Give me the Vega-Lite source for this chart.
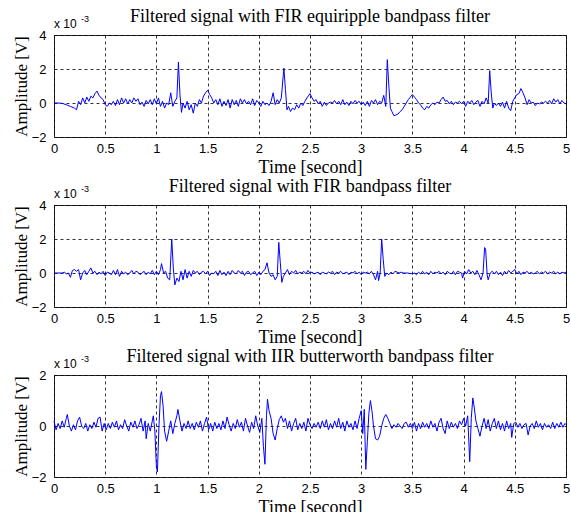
{
  "$schema": "https://vega.github.io/schema/vega-lite/v6.json",
  "background": "white",
  "padding": {"left": 11, "top": 7, "right": 4, "bottom": 0},
  "spacing": 0,
  "datasets": {
    "p1": [
      {"t":0,"v":0},{"t":0.04,"v":0},{"t":0.08,"v":-0.02},{"t":0.12,"v":-0.1},{"t":0.16,"v":-0.2},{"t":0.2,"v":-0.3},{"t":0.22,"v":-0.4},{"t":0.24,"v":0.1},{"t":0.26,"v":-0.1},{"t":0.28,"v":0.3},{"t":0.3,"v":0},{"t":0.32,"v":0.35},{"t":0.34,"v":0.1},{"t":0.36,"v":0.4},{"t":0.38,"v":0.3},{"t":0.4,"v":0.55},{"t":0.42,"v":0.7},{"t":0.44,"v":0.45},{"t":0.46,"v":0.3},{"t":0.48,"v":0.2},{"t":0.5,"v":-0.1},{"t":0.52,"v":-0.2},{"t":0.54,"v":0},{"t":0.56,"v":-0.1},{"t":0.58,"v":0.1},{"t":0.6,"v":-0.15},{"t":0.62,"v":0.2},{"t":0.64,"v":-0.1},{"t":0.66,"v":0.3},{"t":0.68,"v":0},{"t":0.7,"v":0.25},{"t":0.72,"v":-0.05},{"t":0.74,"v":0.2},{"t":0.76,"v":0},{"t":0.78,"v":0.3},{"t":0.8,"v":0.1},{"t":0.82,"v":0.25},{"t":0.84,"v":-0.1},{"t":0.86,"v":0.05},{"t":0.88,"v":-0.2},{"t":0.9,"v":0.15},{"t":0.92,"v":-0.05},{"t":0.94,"v":0.2},{"t":0.96,"v":-0.1},{"t":0.98,"v":0.25},{"t":1,"v":-0.05},{"t":1.02,"v":0.3},{"t":1.04,"v":-0.2},{"t":1.06,"v":0.1},{"t":1.08,"v":-0.3},{"t":1.1,"v":0},{"t":1.12,"v":-0.1},{"t":1.14,"v":0.6},{"t":1.16,"v":-0.2},{"t":1.18,"v":0.1},{"t":1.2,"v":0.3},{"t":1.215,"v":2.4},{"t":1.23,"v":0.5},{"t":1.245,"v":-0.55},{"t":1.26,"v":0},{"t":1.28,"v":-0.3},{"t":1.3,"v":0.1},{"t":1.32,"v":-0.4},{"t":1.34,"v":-0.1},{"t":1.36,"v":-0.6},{"t":1.38,"v":0},{"t":1.4,"v":-0.2},{"t":1.42,"v":0.2},{"t":1.44,"v":0},{"t":1.46,"v":0.4},{"t":1.48,"v":0.6},{"t":1.5,"v":0.75},{"t":1.52,"v":0.5},{"t":1.54,"v":0.3},{"t":1.56,"v":0},{"t":1.58,"v":0.2},{"t":1.6,"v":-0.1},{"t":1.62,"v":0.25},{"t":1.64,"v":-0.2},{"t":1.66,"v":0.1},{"t":1.68,"v":-0.15},{"t":1.7,"v":0.2},{"t":1.72,"v":-0.3},{"t":1.74,"v":0.2},{"t":1.76,"v":-0.1},{"t":1.78,"v":0.15},{"t":1.8,"v":-0.2},{"t":1.82,"v":0.25},{"t":1.84,"v":0},{"t":1.86,"v":0.2},{"t":1.88,"v":-0.05},{"t":1.9,"v":0.1},{"t":1.92,"v":-0.1},{"t":1.94,"v":0.25},{"t":1.96,"v":-0.15},{"t":1.98,"v":0.15},{"t":2,"v":0},{"t":2.02,"v":-0.2},{"t":2.04,"v":0.1},{"t":2.06,"v":-0.1},{"t":2.08,"v":0},{"t":2.1,"v":-0.15},{"t":2.12,"v":0.1},{"t":2.14,"v":0.6},{"t":2.16,"v":-0.1},{"t":2.18,"v":0.2},{"t":2.2,"v":0},{"t":2.22,"v":0.3},{"t":2.245,"v":2.05},{"t":2.26,"v":0.8},{"t":2.275,"v":-0.4},{"t":2.29,"v":-0.2},{"t":2.31,"v":-0.5},{"t":2.33,"v":-0.3},{"t":2.35,"v":-0.4},{"t":2.37,"v":-0.1},{"t":2.39,"v":-0.3},{"t":2.41,"v":0},{"t":2.43,"v":-0.15},{"t":2.45,"v":0.1},{"t":2.47,"v":0.3},{"t":2.5,"v":0.55},{"t":2.52,"v":0.3},{"t":2.54,"v":0.1},{"t":2.56,"v":0.2},{"t":2.58,"v":-0.05},{"t":2.6,"v":0.1},{"t":2.62,"v":-0.2},{"t":2.64,"v":0.05},{"t":2.66,"v":-0.15},{"t":2.68,"v":0},{"t":2.7,"v":0.05},{"t":2.72,"v":0},{"t":2.74,"v":0.15},{"t":2.76,"v":-0.05},{"t":2.78,"v":0.1},{"t":2.8,"v":-0.1},{"t":2.82,"v":0.2},{"t":2.84,"v":-0.1},{"t":2.86,"v":0.05},{"t":2.88,"v":-0.15},{"t":2.9,"v":0.1},{"t":2.92,"v":-0.05},{"t":2.94,"v":0.15},{"t":2.96,"v":0},{"t":2.98,"v":0.1},{"t":3,"v":-0.1},{"t":3.02,"v":0.05},{"t":3.04,"v":-0.15},{"t":3.06,"v":0.1},{"t":3.08,"v":-0.2},{"t":3.1,"v":0.15},{"t":3.12,"v":0},{"t":3.14,"v":0.2},{"t":3.16,"v":-0.1},{"t":3.18,"v":0.1},{"t":3.2,"v":0},{"t":3.22,"v":0.45},{"t":3.24,"v":-0.2},{"t":3.255,"v":2.55},{"t":3.27,"v":1},{"t":3.285,"v":-0.3},{"t":3.3,"v":-0.5},{"t":3.32,"v":-0.75},{"t":3.34,"v":-0.7},{"t":3.36,"v":-0.65},{"t":3.38,"v":-0.5},{"t":3.4,"v":-0.4},{"t":3.42,"v":-0.2},{"t":3.44,"v":0},{"t":3.46,"v":0.2},{"t":3.48,"v":0.35},{"t":3.5,"v":0.5},{"t":3.52,"v":0.35},{"t":3.54,"v":0.2},{"t":3.56,"v":0},{"t":3.58,"v":-0.1},{"t":3.6,"v":-0.3},{"t":3.62,"v":-0.4},{"t":3.64,"v":-0.2},{"t":3.66,"v":-0.3},{"t":3.68,"v":-0.1},{"t":3.7,"v":0},{"t":3.72,"v":-0.1},{"t":3.74,"v":0.05},{"t":3.76,"v":0},{"t":3.78,"v":0.2},{"t":3.8,"v":0.35},{"t":3.82,"v":0.1},{"t":3.84,"v":0.15},{"t":3.86,"v":-0.05},{"t":3.88,"v":0.1},{"t":3.9,"v":-0.1},{"t":3.92,"v":0.05},{"t":3.94,"v":0},{"t":3.96,"v":0.1},{"t":3.98,"v":-0.05},{"t":4,"v":0.1},{"t":4.02,"v":-0.2},{"t":4.04,"v":0.1},{"t":4.06,"v":0},{"t":4.08,"v":0.15},{"t":4.1,"v":-0.1},{"t":4.12,"v":0.05},{"t":4.14,"v":0.15},{"t":4.16,"v":-0.2},{"t":4.18,"v":0.1},{"t":4.2,"v":-0.05},{"t":4.22,"v":0.3},{"t":4.24,"v":0},{"t":4.255,"v":1.9},{"t":4.27,"v":0.6},{"t":4.285,"v":-0.3},{"t":4.3,"v":0},{"t":4.32,"v":-0.15},{"t":4.34,"v":0},{"t":4.36,"v":-0.2},{"t":4.38,"v":0.05},{"t":4.4,"v":-0.3},{"t":4.42,"v":0.1},{"t":4.44,"v":-0.3},{"t":4.46,"v":-0.45},{"t":4.48,"v":0.1},{"t":4.5,"v":0.3},{"t":4.52,"v":0.5},{"t":4.54,"v":0.55},{"t":4.56,"v":0.85},{"t":4.58,"v":0.6},{"t":4.6,"v":0.3},{"t":4.62,"v":-0.1},{"t":4.64,"v":0.2},{"t":4.66,"v":0},{"t":4.68,"v":0.05},{"t":4.7,"v":-0.15},{"t":4.72,"v":0},{"t":4.74,"v":-0.05},{"t":4.76,"v":0.05},{"t":4.78,"v":0},{"t":4.8,"v":0.1},{"t":4.82,"v":0},{"t":4.84,"v":0.15},{"t":4.86,"v":-0.05},{"t":4.88,"v":0.25},{"t":4.9,"v":0.05},{"t":4.92,"v":0.2},{"t":4.94,"v":-0.05},{"t":4.96,"v":0.15},{"t":4.98,"v":0},{"t":5,"v":-0.05}
    ],
    "p2": [
      {"t":0,"v":0},{"t":0.04,"v":0},{"t":0.08,"v":0},{"t":0.1,"v":0.05},{"t":0.12,"v":-0.05},{"t":0.14,"v":0},{"t":0.16,"v":-0.25},{"t":0.18,"v":0.15},{"t":0.2,"v":0.2},{"t":0.22,"v":0.1},{"t":0.24,"v":0.2},{"t":0.26,"v":-0.4},{"t":0.28,"v":0},{"t":0.3,"v":0.15},{"t":0.32,"v":-0.1},{"t":0.34,"v":0.1},{"t":0.36,"v":0.3},{"t":0.38,"v":0},{"t":0.4,"v":0.1},{"t":0.42,"v":-0.1},{"t":0.44,"v":0.05},{"t":0.46,"v":-0.05},{"t":0.48,"v":0.1},{"t":0.5,"v":-0.15},{"t":0.52,"v":0.05},{"t":0.54,"v":0},{"t":0.56,"v":-0.1},{"t":0.58,"v":0.15},{"t":0.6,"v":-0.1},{"t":0.62,"v":0.2},{"t":0.64,"v":-0.2},{"t":0.66,"v":0.1},{"t":0.68,"v":-0.05},{"t":0.7,"v":0.05},{"t":0.72,"v":-0.1},{"t":0.74,"v":0},{"t":0.76,"v":0.15},{"t":0.78,"v":-0.05},{"t":0.8,"v":0.1},{"t":0.82,"v":0.05},{"t":0.84,"v":-0.1},{"t":0.86,"v":0},{"t":0.88,"v":0.1},{"t":0.9,"v":-0.1},{"t":0.92,"v":0.05},{"t":0.94,"v":-0.05},{"t":0.96,"v":0.15},{"t":0.98,"v":-0.1},{"t":1,"v":0.1},{"t":1.02,"v":-0.1},{"t":1.04,"v":0.2},{"t":1.05,"v":0.55},{"t":1.07,"v":0},{"t":1.09,"v":0.1},{"t":1.11,"v":-0.3},{"t":1.13,"v":-0.4},{"t":1.15,"v":2},{"t":1.165,"v":0.3},{"t":1.18,"v":-0.7},{"t":1.2,"v":-0.3},{"t":1.22,"v":-0.5},{"t":1.24,"v":0.1},{"t":1.26,"v":-0.4},{"t":1.28,"v":0.2},{"t":1.3,"v":-0.3},{"t":1.32,"v":0.1},{"t":1.34,"v":-0.2},{"t":1.36,"v":0.15},{"t":1.38,"v":0},{"t":1.4,"v":0.1},{"t":1.42,"v":-0.1},{"t":1.44,"v":0.05},{"t":1.46,"v":0.1},{"t":1.48,"v":-0.05},{"t":1.5,"v":0.1},{"t":1.52,"v":-0.15},{"t":1.54,"v":0},{"t":1.56,"v":-0.05},{"t":1.58,"v":0.1},{"t":1.6,"v":-0.15},{"t":1.62,"v":0.15},{"t":1.64,"v":-0.1},{"t":1.66,"v":0.05},{"t":1.68,"v":-0.15},{"t":1.7,"v":0.1},{"t":1.72,"v":-0.1},{"t":1.74,"v":0.15},{"t":1.76,"v":0},{"t":1.78,"v":-0.05},{"t":1.8,"v":0.15},{"t":1.82,"v":0},{"t":1.84,"v":0.1},{"t":1.86,"v":-0.15},{"t":1.88,"v":0.05},{"t":1.9,"v":0.1},{"t":1.92,"v":-0.1},{"t":1.94,"v":0},{"t":1.96,"v":0.1},{"t":1.98,"v":-0.15},{"t":2,"v":0.05},{"t":2.02,"v":-0.1},{"t":2.04,"v":0.1},{"t":2.06,"v":0.2},{"t":2.08,"v":0.6},{"t":2.1,"v":0},{"t":2.12,"v":-0.2},{"t":2.14,"v":-0.1},{"t":2.16,"v":-0.4},{"t":2.18,"v":-0.2},{"t":2.195,"v":1.8},{"t":2.21,"v":0.6},{"t":2.225,"v":-0.55},{"t":2.24,"v":-0.2},{"t":2.26,"v":0},{"t":2.28,"v":0.2},{"t":2.3,"v":-0.1},{"t":2.32,"v":0.1},{"t":2.34,"v":0},{"t":2.36,"v":0.15},{"t":2.38,"v":-0.05},{"t":2.4,"v":0.05},{"t":2.42,"v":0},{"t":2.44,"v":0.1},{"t":2.46,"v":-0.05},{"t":2.48,"v":0.15},{"t":2.5,"v":0},{"t":2.52,"v":0.05},{"t":2.54,"v":-0.05},{"t":2.56,"v":0},{"t":2.58,"v":0.05},{"t":2.6,"v":-0.1},{"t":2.62,"v":0.05},{"t":2.64,"v":0},{"t":2.66,"v":-0.05},{"t":2.68,"v":0.05},{"t":2.7,"v":0},{"t":2.72,"v":0.1},{"t":2.74,"v":-0.1},{"t":2.76,"v":0.05},{"t":2.78,"v":0},{"t":2.8,"v":0.1},{"t":2.82,"v":-0.05},{"t":2.84,"v":0},{"t":2.86,"v":0.05},{"t":2.88,"v":-0.1},{"t":2.9,"v":0.05},{"t":2.92,"v":0},{"t":2.94,"v":0.1},{"t":2.96,"v":-0.05},{"t":2.98,"v":0.05},{"t":3,"v":-0.1},{"t":3.02,"v":0.05},{"t":3.04,"v":0},{"t":3.06,"v":0.05},{"t":3.08,"v":-0.05},{"t":3.1,"v":0.1},{"t":3.12,"v":-0.1},{"t":3.14,"v":-0.4},{"t":3.16,"v":0.1},{"t":3.17,"v":-0.45},{"t":3.185,"v":0},{"t":3.2,"v":2},{"t":3.215,"v":0.8},{"t":3.23,"v":-0.2},{"t":3.25,"v":0},{"t":3.27,"v":-0.1},{"t":3.29,"v":0.05},{"t":3.31,"v":-0.05},{"t":3.33,"v":0.1},{"t":3.35,"v":0.05},{"t":3.37,"v":0},{"t":3.39,"v":0.05},{"t":3.41,"v":0},{"t":3.45,"v":0},{"t":3.5,"v":-0.05},{"t":3.52,"v":0},{"t":3.54,"v":-0.1},{"t":3.56,"v":0.05},{"t":3.58,"v":-0.05},{"t":3.6,"v":0.1},{"t":3.62,"v":-0.05},{"t":3.64,"v":0.05},{"t":3.66,"v":-0.1},{"t":3.68,"v":0.1},{"t":3.7,"v":-0.05},{"t":3.72,"v":0.05},{"t":3.74,"v":0},{"t":3.76,"v":0.1},{"t":3.78,"v":-0.05},{"t":3.8,"v":0.05},{"t":3.82,"v":-0.1},{"t":3.84,"v":0.1},{"t":3.86,"v":0},{"t":3.88,"v":-0.05},{"t":3.9,"v":0.1},{"t":3.92,"v":-0.1},{"t":3.94,"v":0.1},{"t":3.96,"v":0.05},{"t":3.98,"v":0},{"t":3.99,"v":-0.3},{"t":4.01,"v":0.1},{"t":4.03,"v":-0.05},{"t":4.05,"v":0.2},{"t":4.07,"v":0},{"t":4.09,"v":0.1},{"t":4.11,"v":-0.1},{"t":4.13,"v":0.15},{"t":4.15,"v":-0.1},{"t":4.17,"v":-0.4},{"t":4.19,"v":0},{"t":4.205,"v":1.5},{"t":4.215,"v":1.4},{"t":4.23,"v":-0.1},{"t":4.24,"v":-0.4},{"t":4.26,"v":0},{"t":4.28,"v":0.1},{"t":4.3,"v":-0.05},{"t":4.32,"v":0.1},{"t":4.34,"v":-0.1},{"t":4.36,"v":0.05},{"t":4.38,"v":-0.15},{"t":4.4,"v":0.1},{"t":4.42,"v":-0.05},{"t":4.44,"v":0.15},{"t":4.46,"v":0},{"t":4.48,"v":0.1},{"t":4.5,"v":0.2},{"t":4.52,"v":-0.05},{"t":4.54,"v":0.1},{"t":4.56,"v":-0.1},{"t":4.58,"v":0.05},{"t":4.6,"v":0},{"t":4.62,"v":0.1},{"t":4.64,"v":-0.05},{"t":4.66,"v":0.05},{"t":4.68,"v":-0.05},{"t":4.7,"v":0},{"t":4.72,"v":0.1},{"t":4.74,"v":-0.05},{"t":4.76,"v":0.05},{"t":4.78,"v":0},{"t":4.8,"v":0.1},{"t":4.82,"v":-0.05},{"t":4.84,"v":0.05},{"t":4.86,"v":0},{"t":4.88,"v":0.1},{"t":4.9,"v":-0.05},{"t":4.92,"v":0.05},{"t":4.94,"v":-0.05},{"t":4.96,"v":0.05},{"t":4.98,"v":0},{"t":5,"v":0.05}
    ],
    "p3": [
      {"t":0,"v":0.2},{"t":0.02,"v":-0.15},{"t":0.04,"v":0.1},{"t":0.06,"v":-0.1},{"t":0.08,"v":0.2},{"t":0.1,"v":-0.05},{"t":0.12,"v":0.3},{"t":0.13,"v":0.45},{"t":0.15,"v":0},{"t":0.17,"v":-0.2},{"t":0.19,"v":0.05},{"t":0.21,"v":-0.15},{"t":0.23,"v":0.2},{"t":0.25,"v":0.35},{"t":0.27,"v":0},{"t":0.29,"v":-0.1},{"t":0.31,"v":0.1},{"t":0.33,"v":-0.2},{"t":0.35,"v":0.05},{"t":0.37,"v":-0.1},{"t":0.39,"v":0.15},{"t":0.41,"v":-0.05},{"t":0.43,"v":0.3},{"t":0.45,"v":0.35},{"t":0.47,"v":-0.2},{"t":0.49,"v":0.1},{"t":0.51,"v":-0.15},{"t":0.53,"v":0.1},{"t":0.55,"v":-0.1},{"t":0.57,"v":0.15},{"t":0.59,"v":-0.05},{"t":0.61,"v":0.2},{"t":0.63,"v":-0.15},{"t":0.65,"v":0.05},{"t":0.67,"v":-0.1},{"t":0.69,"v":0.25},{"t":0.71,"v":0},{"t":0.73,"v":-0.2},{"t":0.75,"v":0.15},{"t":0.77,"v":-0.05},{"t":0.79,"v":0.2},{"t":0.81,"v":-0.1},{"t":0.83,"v":0.05},{"t":0.85,"v":0.3},{"t":0.87,"v":-0.2},{"t":0.89,"v":0.2},{"t":0.9,"v":-0.5},{"t":0.92,"v":0.1},{"t":0.94,"v":-0.2},{"t":0.96,"v":0.2},{"t":0.97,"v":0.4},{"t":0.985,"v":-0.2},{"t":1,"v":-1.6},{"t":1.01,"v":-1.8},{"t":1.025,"v":0},{"t":1.04,"v":1.2},{"t":1.05,"v":1.35},{"t":1.065,"v":0.8},{"t":1.08,"v":-0.2},{"t":1.1,"v":-0.6},{"t":1.12,"v":-0.2},{"t":1.14,"v":0.2},{"t":1.16,"v":-0.3},{"t":1.18,"v":0.1},{"t":1.2,"v":0.4},{"t":1.21,"v":0.65},{"t":1.23,"v":0.2},{"t":1.25,"v":-0.2},{"t":1.27,"v":0.1},{"t":1.29,"v":-0.1},{"t":1.31,"v":0.2},{"t":1.33,"v":-0.1},{"t":1.35,"v":0.1},{"t":1.37,"v":-0.15},{"t":1.39,"v":0.15},{"t":1.41,"v":-0.05},{"t":1.43,"v":0.2},{"t":1.45,"v":-0.2},{"t":1.47,"v":0.1},{"t":1.49,"v":0.35},{"t":1.51,"v":-0.15},{"t":1.53,"v":0.1},{"t":1.55,"v":-0.2},{"t":1.57,"v":0.15},{"t":1.59,"v":-0.1},{"t":1.61,"v":0.1},{"t":1.63,"v":-0.15},{"t":1.65,"v":0.2},{"t":1.67,"v":-0.1},{"t":1.69,"v":0.35},{"t":1.71,"v":0.05},{"t":1.73,"v":-0.2},{"t":1.75,"v":0.1},{"t":1.77,"v":-0.1},{"t":1.79,"v":0.25},{"t":1.81,"v":-0.05},{"t":1.83,"v":0.15},{"t":1.85,"v":-0.2},{"t":1.87,"v":0.3},{"t":1.89,"v":0},{"t":1.91,"v":-0.25},{"t":1.93,"v":0.15},{"t":1.95,"v":-0.1},{"t":1.97,"v":0.4},{"t":1.99,"v":0},{"t":2.01,"v":-0.25},{"t":2.03,"v":0.3},{"t":2.045,"v":-0.8},{"t":2.06,"v":-1.5},{"t":2.075,"v":0.4},{"t":2.085,"v":1.05},{"t":2.1,"v":0.6},{"t":2.12,"v":0.3},{"t":2.14,"v":-0.3},{"t":2.16,"v":-0.55},{"t":2.18,"v":-0.1},{"t":2.2,"v":0.25},{"t":2.22,"v":0.4},{"t":2.24,"v":0.15},{"t":2.26,"v":0.3},{"t":2.28,"v":-0.1},{"t":2.3,"v":0.2},{"t":2.32,"v":-0.2},{"t":2.34,"v":0.1},{"t":2.36,"v":0.3},{"t":2.38,"v":-0.15},{"t":2.4,"v":0.1},{"t":2.42,"v":-0.1},{"t":2.44,"v":0.15},{"t":2.46,"v":-0.2},{"t":2.48,"v":0.3},{"t":2.5,"v":0.05},{"t":2.52,"v":-0.1},{"t":2.54,"v":0.1},{"t":2.56,"v":-0.05},{"t":2.58,"v":0.15},{"t":2.6,"v":-0.1},{"t":2.62,"v":0.2},{"t":2.64,"v":-0.05},{"t":2.66,"v":0.25},{"t":2.68,"v":-0.15},{"t":2.7,"v":0.1},{"t":2.72,"v":-0.1},{"t":2.74,"v":0.2},{"t":2.76,"v":-0.05},{"t":2.78,"v":0.3},{"t":2.8,"v":-0.1},{"t":2.82,"v":0.15},{"t":2.84,"v":-0.2},{"t":2.86,"v":0.2},{"t":2.88,"v":-0.05},{"t":2.9,"v":0.1},{"t":2.92,"v":-0.15},{"t":2.94,"v":0.2},{"t":2.96,"v":-0.1},{"t":2.98,"v":0.3},{"t":3,"v":0.6},{"t":3.015,"v":-0.3},{"t":3.03,"v":0.65},{"t":3.045,"v":-1.7},{"t":3.06,"v":-0.6},{"t":3.075,"v":0.5},{"t":3.09,"v":1},{"t":3.105,"v":0.6},{"t":3.12,"v":0},{"t":3.14,"v":-0.5},{"t":3.16,"v":-0.55},{"t":3.18,"v":-0.4},{"t":3.2,"v":0},{"t":3.22,"v":0.3},{"t":3.24,"v":0.45},{"t":3.26,"v":0.3},{"t":3.28,"v":0.1},{"t":3.3,"v":-0.1},{"t":3.32,"v":0.05},{"t":3.34,"v":-0.05},{"t":3.36,"v":0.1},{"t":3.38,"v":0},{"t":3.4,"v":-0.1},{"t":3.42,"v":0.1},{"t":3.44,"v":0.15},{"t":3.46,"v":-0.05},{"t":3.48,"v":0.1},{"t":3.5,"v":-0.1},{"t":3.52,"v":0.15},{"t":3.54,"v":-0.2},{"t":3.56,"v":0.1},{"t":3.58,"v":-0.1},{"t":3.6,"v":0.15},{"t":3.62,"v":-0.05},{"t":3.64,"v":0.1},{"t":3.66,"v":-0.1},{"t":3.68,"v":0.2},{"t":3.7,"v":-0.05},{"t":3.72,"v":0.1},{"t":3.74,"v":-0.2},{"t":3.76,"v":0.15},{"t":3.78,"v":0.3},{"t":3.8,"v":-0.1},{"t":3.82,"v":-0.3},{"t":3.84,"v":0.2},{"t":3.86,"v":-0.1},{"t":3.88,"v":0.15},{"t":3.9,"v":-0.05},{"t":3.92,"v":0.1},{"t":3.94,"v":-0.1},{"t":3.96,"v":0.2},{"t":3.98,"v":0.05},{"t":4,"v":0.3},{"t":4.02,"v":0},{"t":4.04,"v":0.4},{"t":4.06,"v":-1.4},{"t":4.075,"v":0.3},{"t":4.09,"v":1.1},{"t":4.105,"v":0.7},{"t":4.12,"v":0.2},{"t":4.14,"v":-0.1},{"t":4.16,"v":-0.4},{"t":4.18,"v":0},{"t":4.2,"v":0.3},{"t":4.22,"v":-0.1},{"t":4.24,"v":0.25},{"t":4.26,"v":-0.2},{"t":4.28,"v":0.1},{"t":4.3,"v":0.3},{"t":4.32,"v":-0.1},{"t":4.34,"v":0.2},{"t":4.36,"v":-0.15},{"t":4.38,"v":0.1},{"t":4.4,"v":-0.2},{"t":4.42,"v":0.2},{"t":4.44,"v":-0.1},{"t":4.46,"v":0.1},{"t":4.47,"v":-0.45},{"t":4.49,"v":0.1},{"t":4.51,"v":0.15},{"t":4.53,"v":-0.05},{"t":4.55,"v":0.1},{"t":4.57,"v":-0.1},{"t":4.59,"v":0.05},{"t":4.61,"v":0.1},{"t":4.63,"v":-0.35},{"t":4.65,"v":0},{"t":4.67,"v":0.1},{"t":4.69,"v":-0.1},{"t":4.71,"v":0.2},{"t":4.73,"v":-0.05},{"t":4.75,"v":0.1},{"t":4.77,"v":-0.15},{"t":4.79,"v":0.1},{"t":4.81,"v":-0.05},{"t":4.83,"v":0.05},{"t":4.85,"v":-0.1},{"t":4.87,"v":0.15},{"t":4.89,"v":-0.1},{"t":4.91,"v":0.1},{"t":4.93,"v":-0.05},{"t":4.95,"v":0.15},{"t":4.97,"v":-0.05},{"t":4.99,"v":0.1},{"t":5,"v":0.05}
    ]
  },
  "vconcat": [
    {
      "width": 512, "height": 102,
      "title": {"text": "Filtered signal with FIR equiripple bandpass filter"},
      "encoding": {
        "x": {"type": "quantitative", "scale": {"domain": [0, 5], "nice": false}, "axis": {"values": [0,0.5,1,1.5,2,2.5,3,3.5,4,4.5,5], "format": "~g", "title": "Time [second]"}},
        "y": {"type": "quantitative", "scale": {"domain": [-2, 4], "nice": false}, "axis": {"values": [-2,0,2,4], "title": "Amplitude [V]"}}
      },
      "layer": [
        {"data": {"name": "p1"}, "mark": {"type": "line", "color": "#0000ff", "strokeWidth": 1},
         "encoding": {"x": {"field": "t"}, "y": {"field": "v"}}},
        {"data": {"values": [{}]}, "mark": {"type": "text", "text": "x 10", "align": "left", "baseline": "alphabetic", "dy": -7, "font": "Liberation Sans", "fontSize": 12, "color": "#000"},
         "encoding": {"x": {"datum": 0}, "y": {"datum": 4}}},
        {"data": {"values": [{}]}, "mark": {"type": "text", "text": "-3", "align": "left", "baseline": "alphabetic", "dx": 27, "dy": -13, "font": "Liberation Sans", "fontSize": 9, "color": "#000"},
         "encoding": {"x": {"datum": 0}, "y": {"datum": 4}}}
      ]
    },
    {
      "width": 512, "height": 102,
      "title": {"text": "Filtered signal with FIR bandpass filter"},
      "encoding": {
        "x": {"type": "quantitative", "scale": {"domain": [0, 5], "nice": false}, "axis": {"values": [0,0.5,1,1.5,2,2.5,3,3.5,4,4.5,5], "format": "~g", "title": "Time [second]"}},
        "y": {"type": "quantitative", "scale": {"domain": [-2, 4], "nice": false}, "axis": {"values": [-2,0,2,4], "title": "Amplitude [V]"}}
      },
      "layer": [
        {"data": {"name": "p2"}, "mark": {"type": "line", "color": "#0000ff", "strokeWidth": 1},
         "encoding": {"x": {"field": "t"}, "y": {"field": "v"}}},
        {"data": {"values": [{}]}, "mark": {"type": "text", "text": "x 10", "align": "left", "baseline": "alphabetic", "dy": -7, "font": "Liberation Sans", "fontSize": 12, "color": "#000"},
         "encoding": {"x": {"datum": 0}, "y": {"datum": 4}}},
        {"data": {"values": [{}]}, "mark": {"type": "text", "text": "-3", "align": "left", "baseline": "alphabetic", "dx": 27, "dy": -13, "font": "Liberation Sans", "fontSize": 9, "color": "#000"},
         "encoding": {"x": {"datum": 0}, "y": {"datum": 4}}}
      ]
    },
    {
      "width": 512, "height": 102,
      "title": {"text": "Filtered signal with IIR butterworth bandpass filter"},
      "encoding": {
        "x": {"type": "quantitative", "scale": {"domain": [0, 5], "nice": false}, "axis": {"values": [0,0.5,1,1.5,2,2.5,3,3.5,4,4.5,5], "format": "~g", "title": "Time [second]"}},
        "y": {"type": "quantitative", "scale": {"domain": [-2, 2], "nice": false}, "axis": {"values": [-2,0,2], "title": "Amplitude [V]"}}
      },
      "layer": [
        {"data": {"name": "p3"}, "mark": {"type": "line", "color": "#0000ff", "strokeWidth": 1},
         "encoding": {"x": {"field": "t"}, "y": {"field": "v"}}},
        {"data": {"values": [{}]}, "mark": {"type": "text", "text": "x 10", "align": "left", "baseline": "alphabetic", "dy": -7, "font": "Liberation Sans", "fontSize": 12, "color": "#000"},
         "encoding": {"x": {"datum": 0}, "y": {"datum": 2}}},
        {"data": {"values": [{}]}, "mark": {"type": "text", "text": "-3", "align": "left", "baseline": "alphabetic", "dx": 27, "dy": -13, "font": "Liberation Sans", "fontSize": 9, "color": "#000"},
         "encoding": {"x": {"datum": 0}, "y": {"datum": 2}}}
      ]
    }
  ],
  "config": {
    "view": {"stroke": "#262626", "strokeWidth": 1},
    "axis": {
      "grid": true, "gridColor": "#000", "gridDash": [3, 3], "gridWidth": 0.8, "gridOpacity": 1,
      "domain": false, "ticks": false, "labelOverlap": false,
      "labelFont": "Liberation Sans", "labelFontSize": 13, "labelColor": "#000",
      "titleFont": "Liberation Serif", "titleFontWeight": "normal", "titleColor": "#000"
    },
    "axisX": {"labelPadding": 5, "titlePadding": 3, "labelFlush": false, "titleFontSize": 18},
    "axisY": {"labelPadding": 8, "titlePadding": 1, "titleFontSize": 17},
    "title": {"font": "Liberation Serif", "fontSize": 18, "fontWeight": "normal", "color": "#000", "offset": -11}
  }
}
